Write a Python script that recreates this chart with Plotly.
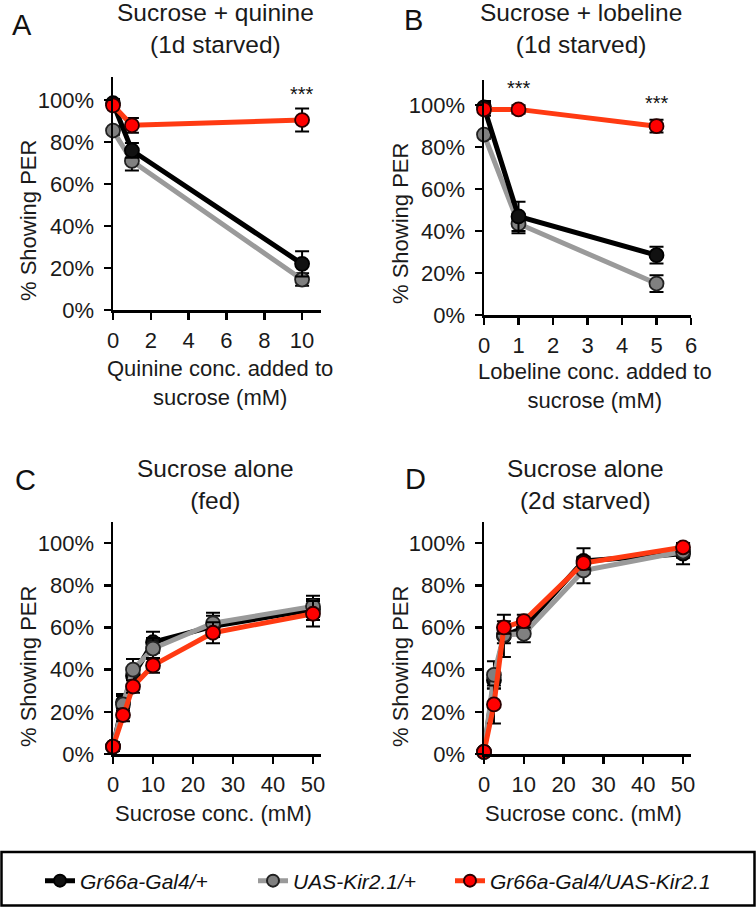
import plotly.graph_objects as go

# ---------------- data ----------------
A_x = [0, 1, 10]
A_black = [98.5, 76, 22]
A_black_err = [2, 3.5, 6]
A_gray = [85.5, 71, 14.5]
A_gray_err = [2, 4.5, 3]
A_red = [97.5, 88, 90.5]
A_red_err = [2.5, 3.5, 5.5]

B_x = [0, 1, 5]
B_black = [99, 47, 28.5]
B_black_err = [3, 7, 4]
B_gray = [86, 43.5, 15]
B_gray_err = [2, 4.5, 4]
B_red = [98, 98, 90]
B_red_err = [3, 2, 3]

C_x = [0, 2.5, 5, 10, 25, 50]
C_black = [3.5, 24.5, 37, 53, 60.5, 68.5]
C_black_err = [2, 4, 4, 5, 5, 5]
C_gray = [3.5, 23.5, 40, 50, 62, 70]
C_gray_err = [2, 4, 5, 5, 5, 5]
C_red = [3.5, 18.5, 32, 42, 57.5, 66.5]
C_red_err = [2, 3, 3, 3.5, 5, 6]

D_x = [0, 2.5, 5, 10, 25, 50]
D_black = [1, 35, 56, 60, 91.5, 95]
D_black_err = [1, 4, 10, 4, 6, 5]
D_gray = [1, 37.5, 56.5, 57, 87, 96]
D_gray_err = [1, 6.5, 4, 4, 6, 3]
D_red = [1, 23.5, 60, 63, 90.5, 98]
D_red_err = [1, 9, 3, 3, 3, 2]

series_names = ["Gr66a-Gal4/+", "UAS-Kir2.1/+", "Gr66a-Gal4/UAS-Kir2.1"]

panel_titles = ["Sucrose + quinine<br>(1d starved)", "Sucrose + lobeline<br>(1d starved)",
                "Sucrose alone<br>(fed)", "Sucrose alone<br>(2d starved)"]
panel_letters = ["A", "B", "C", "D"]
x_titles = ["Quinine conc. added to<br>sucrose (mM)", "Lobeline conc. added to<br>sucrose (mM)",
            "Sucrose conc. (mM)", "Sucrose conc. (mM)"]
y_title = "% Showing PER"

A_xticks = [0, 2, 4, 6, 8, 10]
B_xticks = [0, 1, 2, 3, 4, 5, 6]
CD_xticks = [0, 10, 20, 30, 40, 50]
y_ticks = [0, 20, 40, 60, 80, 100]
y_ticklabels = ["0%", "20%", "40%", "60%", "80%", "100%"]

A_stars_x, A_stars_y = [10], [103]
B_stars_x, B_stars_y = [1, 5], [108, 101]

# ---------------- styling ----------------
FONT = "Arial, 'Liberation Sans', sans-serif"
W, H = 756, 907
styles = {
    "black": dict(line="#000000", fill="#111111", outline="#000000"),
    "gray": dict(line="#9a9a9a", fill="#808080", outline="#222222"),
    "red": dict(line="#ff3a12", fill="#ff0000", outline="#2a0000"),
}
name_of = {"black": series_names[0], "gray": series_names[1], "red": series_names[2]}
legend_of = {"black": "legend", "gray": "legend2", "red": "legend3"}

fig = go.Figure()


def add_series(xa, ya, x, y, err, key, show):
    s = styles[key]
    fig.add_trace(go.Scatter(
        x=x, y=y, mode="lines+markers", xaxis=xa, yaxis=ya,
        name=name_of[key], legend=legend_of[key], showlegend=show,
        line=dict(color=s["line"], width=5),
        marker=dict(size=14, color=s["fill"], line=dict(color=s["outline"], width=1.8)),
        error_y=dict(type="data", array=err, visible=True, color="#000000", thickness=2, width=7),
        cliponaxis=False,
    ))


# panel A (gray under black)
add_series("x", "y", A_x, A_gray, A_gray_err, "gray", True)
add_series("x", "y", A_x, A_black, A_black_err, "black", True)
add_series("x", "y", A_x, A_red, A_red_err, "red", True)
# panel B
add_series("x2", "y2", B_x, B_gray, B_gray_err, "gray", False)
add_series("x2", "y2", B_x, B_black, B_black_err, "black", False)
add_series("x2", "y2", B_x, B_red, B_red_err, "red", False)
# panel C (black under gray)
add_series("x3", "y3", C_x, C_black, C_black_err, "black", False)
add_series("x3", "y3", C_x, C_gray, C_gray_err, "gray", False)
add_series("x3", "y3", C_x, C_red, C_red_err, "red", False)
# panel D
add_series("x4", "y4", D_x, D_black, D_black_err, "black", False)
add_series("x4", "y4", D_x, D_gray, D_gray_err, "gray", False)
add_series("x4", "y4", D_x, D_red, D_red_err, "red", False)

tickfont = dict(family=FONT, size=22, color="#1a1a1a")


def xaxis(domain, rng, ticks, anchor):
    return dict(domain=domain, range=rng, tickvals=ticks, anchor=anchor,
                showline=True, linecolor="#000000", linewidth=2.5,
                ticks="outside", ticklen=7, tickwidth=2.5, tickcolor="#000000",
                showgrid=False, zeroline=False, tickfont=tickfont, ticklabelstandoff=2,
                automargin=False, fixedrange=True)


def yaxis(domain, rng, anchor):
    return dict(domain=domain, range=rng, tickvals=y_ticks, ticktext=y_ticklabels, anchor=anchor,
                showline=True, linecolor="#000000", linewidth=2.5,
                ticks="outside", ticklen=7, tickwidth=2.5, tickcolor="#000000",
                showgrid=False, zeroline=False, tickfont=tickfont, ticklabelstandoff=5,
                automargin=False, fixedrange=True)


def px_x(p):
    return p / W


def px_y(p):
    return 1 - p / H


left_dom = [px_x(113), px_x(321)]
right_dom = [px_x(484), px_x(691)]

fig.update_layout(
    xaxis=xaxis(left_dom, [0, 11], A_xticks, "y"),
    yaxis=yaxis([px_y(310), px_y(77)], [0, 111], "x"),
    xaxis2=xaxis(right_dom, [0, 6], B_xticks, "y2"),
    yaxis2=yaxis([px_y(315), px_y(80)], [0, 112], "x2"),
    xaxis3=xaxis(left_dom, [0, 52], CD_xticks, "y3"),
    yaxis3=yaxis([px_y(754), px_y(522)], [0, 110], "x3"),
    xaxis4=xaxis(right_dom, [0, 52], CD_xticks, "y4"),
    yaxis4=yaxis([px_y(754), px_y(522)], [0, 110], "x4"),
)

ann = []
title_pos = [(215, 28), (581, 28), (215, 484), (585, 484)]
letter_pos = [(22, 25), (413, 20), (25, 480), (415, 479)]
xt_pos = [(220, 383), (595, 386), (213, 813), (583, 813)]
yt_pos = [(28, 221), (400, 224), (28, 667), (400, 667)]
for i in range(4):
    ann.append(dict(text=panel_titles[i], x=px_x(title_pos[i][0]), y=px_y(title_pos[i][1]),
                    xref="paper", yref="paper", showarrow=False, xanchor="center", yanchor="middle",
                    font=dict(family=FONT, size=24.5, color="#1a1a1a")))
    ann.append(dict(text=panel_letters[i], x=px_x(letter_pos[i][0]), y=px_y(letter_pos[i][1]),
                    xref="paper", yref="paper", showarrow=False, xanchor="center", yanchor="middle",
                    font=dict(family=FONT, size=29, color="#111111")))
    ann.append(dict(text=x_titles[i], x=px_x(xt_pos[i][0]), y=px_y(xt_pos[i][1]),
                    xref="paper", yref="paper", showarrow=False, xanchor="center", yanchor="middle",
                    font=dict(family=FONT, size=22, color="#1a1a1a")))
    ann.append(dict(text=y_title, x=px_x(yt_pos[i][0]), y=px_y(yt_pos[i][1]), textangle=-90,
                    xref="paper", yref="paper", showarrow=False, xanchor="center", yanchor="middle",
                    font=dict(family=FONT, size=22, color="#1a1a1a")))

for xs, ys, xr, yr in [(A_stars_x, A_stars_y, "x", "y"), (B_stars_x, B_stars_y, "x2", "y2")]:
    for sx, sy in zip(xs, ys):
        ann.append(dict(text="***", x=sx, y=sy, xref=xr, yref=yr, showarrow=False,
                        xanchor="center", yanchor="middle",
                        font=dict(family=FONT, size=20, color="#111111")))

legfont = dict(family=FONT, size=21, color="#111111", style="italic")


def leg(xpx):
    return dict(orientation="h", x=px_x(xpx), y=px_y(881), xanchor="left", yanchor="middle",
                bgcolor="rgba(0,0,0,0)", borderwidth=0, font=legfont, itemsizing="constant")


fig.update_layout(
    annotations=ann,
    width=W, height=H,
    margin=dict(l=0, r=0, t=0, b=0, autoexpand=False),
    paper_bgcolor="white", plot_bgcolor="white",
    showlegend=True,
    legend=leg(40),
    legend2=leg(253),
    legend3=leg(450),
    shapes=[dict(type="rect", xref="paper", yref="paper",
                 x0=px_x(1.5), x1=px_x(754.5), y0=px_y(905.5), y1=px_y(852),
                 line=dict(color="#000000", width=2.5), fillcolor="rgba(0,0,0,0)")],
)

fig.write_html("out.html", config={"displayModeBar": False, "staticPlot": True},
               post_script="document.body.style.margin='0px';")
